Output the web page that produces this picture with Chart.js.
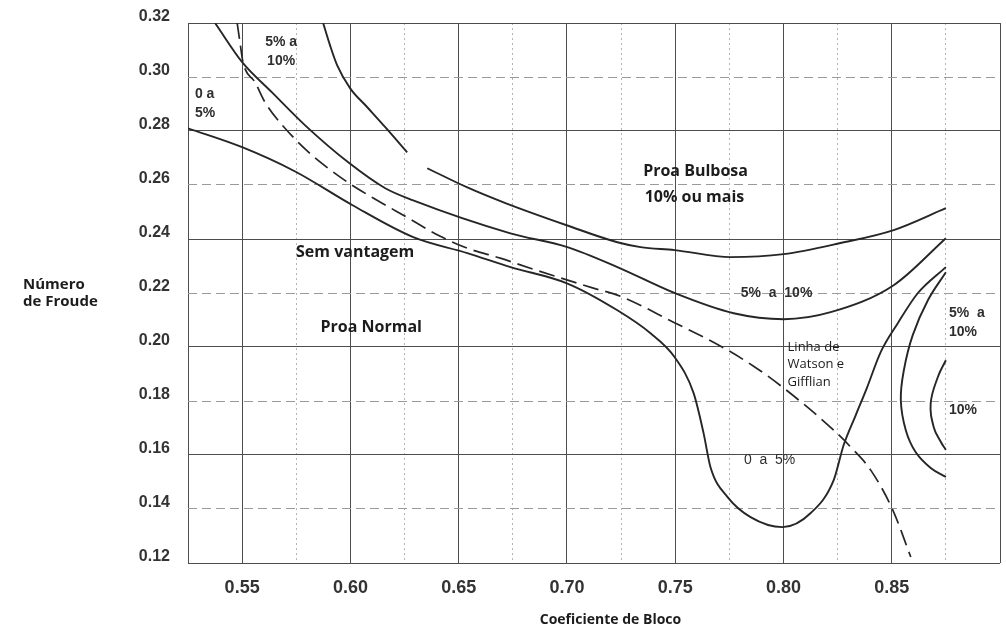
<!DOCTYPE html>
<html>
<head>
<meta charset="utf-8">
<title>Proa Bulbosa - Número de Froude x Coeficiente de Bloco</title>
<script src="https://cdn.jsdelivr.net/npm/chart.js@4.4.1/dist/chart.umd.min.js"></script>
<style>
  html, body { margin: 0; padding: 0; background: #fff; }
  #grafico { display: block; }
</style>
</head>
<body>
<canvas id="grafico" width="1006" height="630"></canvas>
<script>
// pontos [coeficiente de bloco, número de Froude] de cada curva
var limiteSemVantagem = [
  [0.525, 0.281], [0.550, 0.274], [0.5745, 0.265], [0.601, 0.2525], [0.629, 0.2407],
  [0.654, 0.2348], [0.674, 0.2296], [0.700, 0.2236], [0.7233, 0.2136], [0.7386, 0.2051],
  [0.7497, 0.1963], [0.7585, 0.1829], [0.7631, 0.1681], [0.7663, 0.1555], [0.7742, 0.1444],
  [0.7848, 0.1370], [0.7996, 0.1333], [0.8126, 0.1385], [0.8232, 0.1507], [0.8278, 0.1637],
  [0.8334, 0.1748], [0.8385, 0.1848], [0.8449, 0.1981], [0.8528, 0.2088], [0.862, 0.2199],
  [0.875, 0.2296]
];
var limiteCincoDez = [
  [0.5375, 0.32], [0.550, 0.3055], [0.5638, 0.2943], [0.5791, 0.2821], [0.599, 0.2684],
  [0.6161, 0.2588], [0.629, 0.2543], [0.6739, 0.2421], [0.7002, 0.237], [0.7233, 0.2296],
  [0.7497, 0.22], [0.777, 0.2125], [0.8001, 0.2103], [0.8218, 0.2129], [0.8509, 0.2229],
  [0.875, 0.2403]
];
// a curva de 10% tem um trecho interrompido perto de 0.63
var limiteDezMais = [
  [0.5874, 0.32], [0.5906, 0.3117], [0.5939, 0.3043], [0.5999, 0.2958], [0.6078, 0.2888],
  [0.6161, 0.2814], [0.6262, 0.2721], [0.631, null], [0.6355, 0.2662], [0.654, 0.2591],
  [0.6716, 0.2533], [0.7002, 0.245], [0.7233, 0.2388], [0.734, 0.237], [0.7497, 0.2359],
  [0.7756, 0.2333], [0.8001, 0.2344], [0.8264, 0.2385], [0.8509, 0.2433], [0.875, 0.2514]
];
var linhaWatsonGifflian = [
  [0.5477, 0.32], [0.549, 0.3129], [0.5504, 0.3055], [0.556, 0.298], [0.5606, 0.2906],
  [0.5698, 0.281], [0.5823, 0.271], [0.5897, 0.2662], [0.6008, 0.2599], [0.6101, 0.2554],
  [0.6262, 0.248], [0.6415, 0.241], [0.654, 0.2366], [0.6692, 0.2329], [0.6845, 0.2288],
  [0.7122, 0.2218], [0.7247, 0.2188], [0.7492, 0.2092], [0.771, 0.2003], [0.7862, 0.1929],
  [0.8001, 0.1848], [0.8232, 0.1692], [0.8311, 0.1629], [0.8403, 0.1544], [0.8505, 0.1396],
  [0.8588, 0.1222]
];
var contornoCincoDezDireita = [
  [0.875, 0.2277], [0.8667, 0.2173], [0.8597, 0.2044], [0.8556, 0.1914], [0.8542, 0.1803],
  [0.8565, 0.1692], [0.8611, 0.161], [0.868, 0.1552], [0.875, 0.1519]
];
var contornoDezDireita = [
  [0.875, 0.1951], [0.8713, 0.1889], [0.868, 0.1792], [0.8694, 0.1703], [0.8727, 0.1648],
  [0.875, 0.1619]
];

var rotulosX = ['0.55', '0.60', '0.65', '0.70', '0.75', '0.80', '0.85'];
var rotulosY = ['0.12', '0.14', '0.16', '0.18', '0.20', '0.22', '0.24', '0.26', '0.28', '0.30', '0.32'];
var linhasCheiasY = ['0.12', '0.16', '0.20', '0.24', '0.28', '0.32'];

// textos dentro do gráfico, ancorados em [Cb, Fn]
var notas = [
  { linhas: ['0 a', '5%'], cb: 0.5282, fn: 0.2936, estilo: 'pct', alinhar: 'left' },
  { linhas: ['5% a', '10%'], cb: 0.568, fn: 0.3129, estilo: 'pct', alinhar: 'center' },
  { linhas: ['Proa Bulbosa'], cb: 0.7594, fn: 0.2651, estilo: 'regiao', alinhar: 'center' },
  { linhas: ['10% ou mais'], cb: 0.7589, fn: 0.2555, estilo: 'regiao', alinhar: 'center' },
  { linhas: ['Sem vantagem'], cb: 0.6022, fn: 0.2351, estilo: 'regiao', alinhar: 'center' },
  { linhas: ['Proa Normal'], cb: 0.6096, fn: 0.2074, estilo: 'regiao', alinhar: 'center' },
  { linhas: ['5%  a  10%'], cb: 0.7968, fn: 0.22, estilo: 'pct', alinhar: 'center' },
  { linhas: ['Linha de', 'Watson e', 'Gifflian'], cb: 0.8019, fn: 0.2, estilo: 'nota', alinhar: 'left' },
  { linhas: ['5%  a', '10%'], cb: 0.8764, fn: 0.2125, estilo: 'pct', alinhar: 'left' },
  { linhas: ['10%'], cb: 0.8764, fn: 0.1766, estilo: 'pct', alinhar: 'left' },
  { linhas: ['0  a  5%'], cb: 0.7936, fn: 0.1582, estilo: 'pctLeve', alinhar: 'center' }
];

var estilos = {
  regiao: { fonte: 'bold 16px "Open Sans", "Noto Sans", sans-serif', cor: '#1c1c1c', passo: 20 },
  pct: { fonte: 'bold 14px "Liberation Sans", Arial, sans-serif', cor: '#2e2e2e', passo: 19 },
  pctLeve: { fonte: '14px "Liberation Sans", Arial, sans-serif', cor: '#2e2e2e', passo: 19 },
  nota: { fonte: '13px "Open Sans", "Noto Sans", sans-serif', cor: '#1c1c1c', passo: 17.5 }
};

function pontos(lista) {
  return lista.map(function(p) { return { x: p[0], y: p[1] }; });
}

function curva(lista, extra) {
  var ds = {
    data: pontos(lista),
    showLine: true,
    borderColor: '#262626',
    borderWidth: 1.9,
    pointRadius: 0,
    fill: false,
    spanGaps: false,
    cubicInterpolationMode: 'monotone'
  };
  for (var k in extra) ds[k] = extra[k];
  return ds;
}

function fixo(v) { return (Math.round(v * 1000) / 1000).toFixed(2); }

function eMaiorX(ctx) {
  if (!ctx.tick) return true;
  var v = Math.round(ctx.tick.value * 1000);
  return v % 50 === 0 || ctx.index === 0;
}

function eCheiaY(ctx) {
  if (!ctx.tick) return true;
  return linhasCheiasY.indexOf(fixo(ctx.tick.value)) >= 0;
}

var textosPlugin = {
  id: 'textos',
  afterDraw: function(chart) {
    var c = chart.ctx, sx = chart.scales.x, sy = chart.scales.y, area = chart.chartArea;
    c.save();
    c.textBaseline = 'middle';
    notas.forEach(function(n) {
      var st = estilos[n.estilo];
      c.font = st.fonte;
      c.fillStyle = st.cor;
      c.textAlign = n.alinhar;
      var px = sx.getPixelForValue(n.cb), py = sy.getPixelForValue(n.fn);
      n.linhas.forEach(function(l, i) { c.fillText(l, px, py + i * st.passo); });
    });

    // títulos dos eixos
    c.fillStyle = '#1c1c1c';
    c.font = 'bold 14px "Open Sans", "Noto Sans", sans-serif';
    c.textAlign = 'center';
    c.fillText('Coeficiente de Bloco', sx.getPixelForValue(0.7201), area.bottom + 57);
    c.font = 'bold 15px "Open Sans", "Noto Sans", sans-serif';
    c.textAlign = 'left';
    var yF = sy.getPixelForValue(0.22);
    c.fillText('Número', 23, yF - 8);
    c.fillText('de Froude', 23, yF + 9);
    c.restore();
  }
};

new Chart(document.getElementById('grafico'), {
  type: 'scatter',
  data: {
    datasets: [
      curva(limiteSemVantagem),
      curva(limiteCincoDez),
      curva(limiteDezMais),
      curva(linhaWatsonGifflian, { borderDash: [16, 7], borderWidth: 1.7 }),
      curva(contornoCincoDezDireita, { cubicInterpolationMode: 'default', tension: 0.4 }),
      curva(contornoDezDireita, { cubicInterpolationMode: 'default', tension: 0.4 })
    ]
  },
  options: {
    responsive: false,
    animation: false,
    layout: { padding: { top: 23, right: 6, left: 0, bottom: 0 } },
    plugins: { legend: { display: false }, tooltip: { enabled: false } },
    scales: {
      x: {
        type: 'linear',
        min: 0.525,
        max: 0.90,
        afterFit: function(s) {
          s.height = 67;
          s.paddingLeft = 0;
          s.paddingRight = 0;
        },
        border: { display: false, dash: function(ctx) { return eMaiorX(ctx) ? [] : [2, 3]; } },
        grid: {
          drawTicks: false,
          lineWidth: 1,
          color: function(ctx) { return eMaiorX(ctx) ? '#4d4d4d' : '#b4b4b4'; }
        },
        ticks: {
          stepSize: 0.025,
          autoSkip: false,
          maxRotation: 0,
          padding: 14,
          color: '#333',
          font: { family: '"Liberation Sans", Arial, sans-serif', size: 18, weight: 'bold' },
          callback: function(v) {
            var t = fixo(v);
            return rotulosX.indexOf(t) >= 0 ? t : '';
          }
        }
      },
      y: {
        type: 'linear',
        min: 0.12,
        max: 0.32,
        afterFit: function(s) {
          s.width = 188;
          s.paddingTop = 0;
          s.paddingBottom = 0;
        },
        border: { display: false, dash: function(ctx) { return eCheiaY(ctx) ? [] : [9, 5]; } },
        grid: {
          drawTicks: false,
          lineWidth: 1,
          color: function(ctx) { return eCheiaY(ctx) ? '#4d4d4d' : '#9a9a9a'; }
        },
        ticks: {
          stepSize: 0.02,
          autoSkip: false,
          padding: 18,
          labelOffset: -6,
          color: '#333',
          font: { family: '"Liberation Sans", Arial, sans-serif', size: 16, weight: 'bold' },
          callback: function(v) {
            var t = fixo(v);
            return rotulosY.indexOf(t) >= 0 ? t : '';
          }
        }
      }
    }
  },
  plugins: [textosPlugin]
});
</script>
</body>
</html>
